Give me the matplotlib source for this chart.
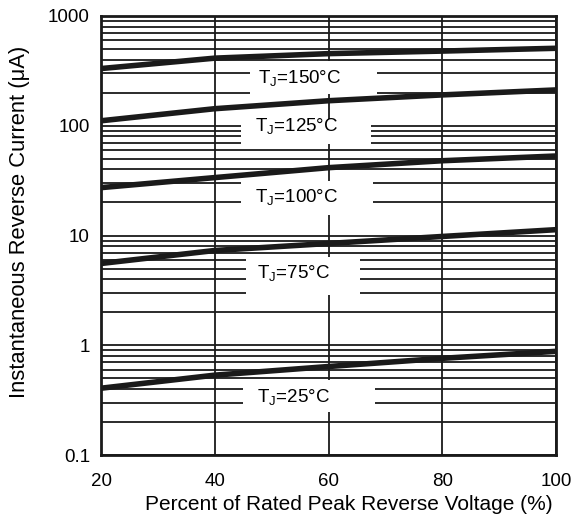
import matplotlib
matplotlib.use('Agg')
import matplotlib.pyplot as plt
from matplotlib.patches import Rectangle
from matplotlib.ticker import LogLocator, NullFormatter

plt.rcParams['font.family'] = ['Liberation Sans', 'DejaVu Sans']
plt.rcParams['mathtext.fontset'] = 'custom'
plt.rcParams['mathtext.rm'] = 'Liberation Sans'

# percent of rated peak reverse voltage
x_pct = [20, 40, 60, 80, 100]

# reverse current (uA) per junction temperature
ir_150 = [332, 413, 454, 479, 508]
ir_125 = [111, 143, 169, 191, 212]
ir_100 = [27.3, 33.7, 41.5, 48, 53]
ir_75 = [5.56, 7.3, 8.46, 9.8, 11.3]
ir_25 = [0.406, 0.534, 0.64, 0.76, 0.88]

curves = [ir_150, ir_125, ir_100, ir_75, ir_25]
labels = ["150", "125", "100", "75", "25"]

# label layout: text start x, text y, and white box (x0, x1, y0, y1)
label_x = [47.6, 47.0, 47.0, 47.4, 47.4]
label_y = [270, 97, 22, 4.5, 0.335]
box_x = [(46.2, 68.5), (44.6, 67.4), (44.6, 67.8), (45.5, 65.6), (44.9, 68.2)]
box_y = [(196, 390), (68, 116), (15.5, 31.6), (2.9, 6.4), (0.246, 0.48)]

y_ticks = [0.1, 1, 10, 100, 1000]
y_ticklabels = ["0.1", "1", "10", "100", "1000"]

fig = plt.figure(figsize=(5.74, 5.22), dpi=100)
ax = fig.add_axes([101 / 574, 67 / 522, 455 / 574, 439 / 522])

ax.set_yscale('log')
ax.set_xlim(20, 100)
ax.set_ylim(0.1, 1000)

ax.set_yticks(y_ticks)
ax.set_yticklabels(y_ticklabels)
ax.yaxis.set_minor_locator(LogLocator(base=10, subs=range(2, 10)))
ax.yaxis.set_minor_formatter(NullFormatter())
ax.set_xticks([20, 40, 60, 80, 100])

ax.grid(True, which='both', axis='y', color='#1a1a1a', linewidth=1.3)
ax.xaxis.grid(True, color='#1a1a1a', linewidth=1.3)
ax.tick_params(which='both', length=0, labelsize=13.5)
ax.tick_params(axis='x', pad=13)
ax.tick_params(axis='y', pad=8)
for s in ax.spines.values():
    s.set_linewidth(2)
    s.set_color('#1a1a1a')

for ys in curves:
    ax.plot(x_pct, ys, color='#1a1a1a', linewidth=4, solid_capstyle='round', zorder=4)

for lab, lx, ly, bx, by in zip(labels, label_x, label_y, box_x, box_y):
    ax.add_patch(Rectangle((bx[0], by[0]), bx[1] - bx[0], by[1] - by[0],
                           facecolor='white', edgecolor='none', zorder=3))
    ax.text(lx, ly, r"T$_{\mathregular{J}}$=" + lab + "\u00b0C", fontsize=13.5,
            ha='left', va='center', zorder=5)

ax.set_xlabel("Percent of Rated Peak Reverse Voltage (%)", fontsize=15)
ax.set_ylabel("Instantaneous Reverse Current (\u03bcA)", fontsize=15.8)
ax.xaxis.set_label_coords(0.545, -0.092)
ax.yaxis.set_label_coords(-0.155, 0.532)

fig.savefig("out.png", dpi=100)
